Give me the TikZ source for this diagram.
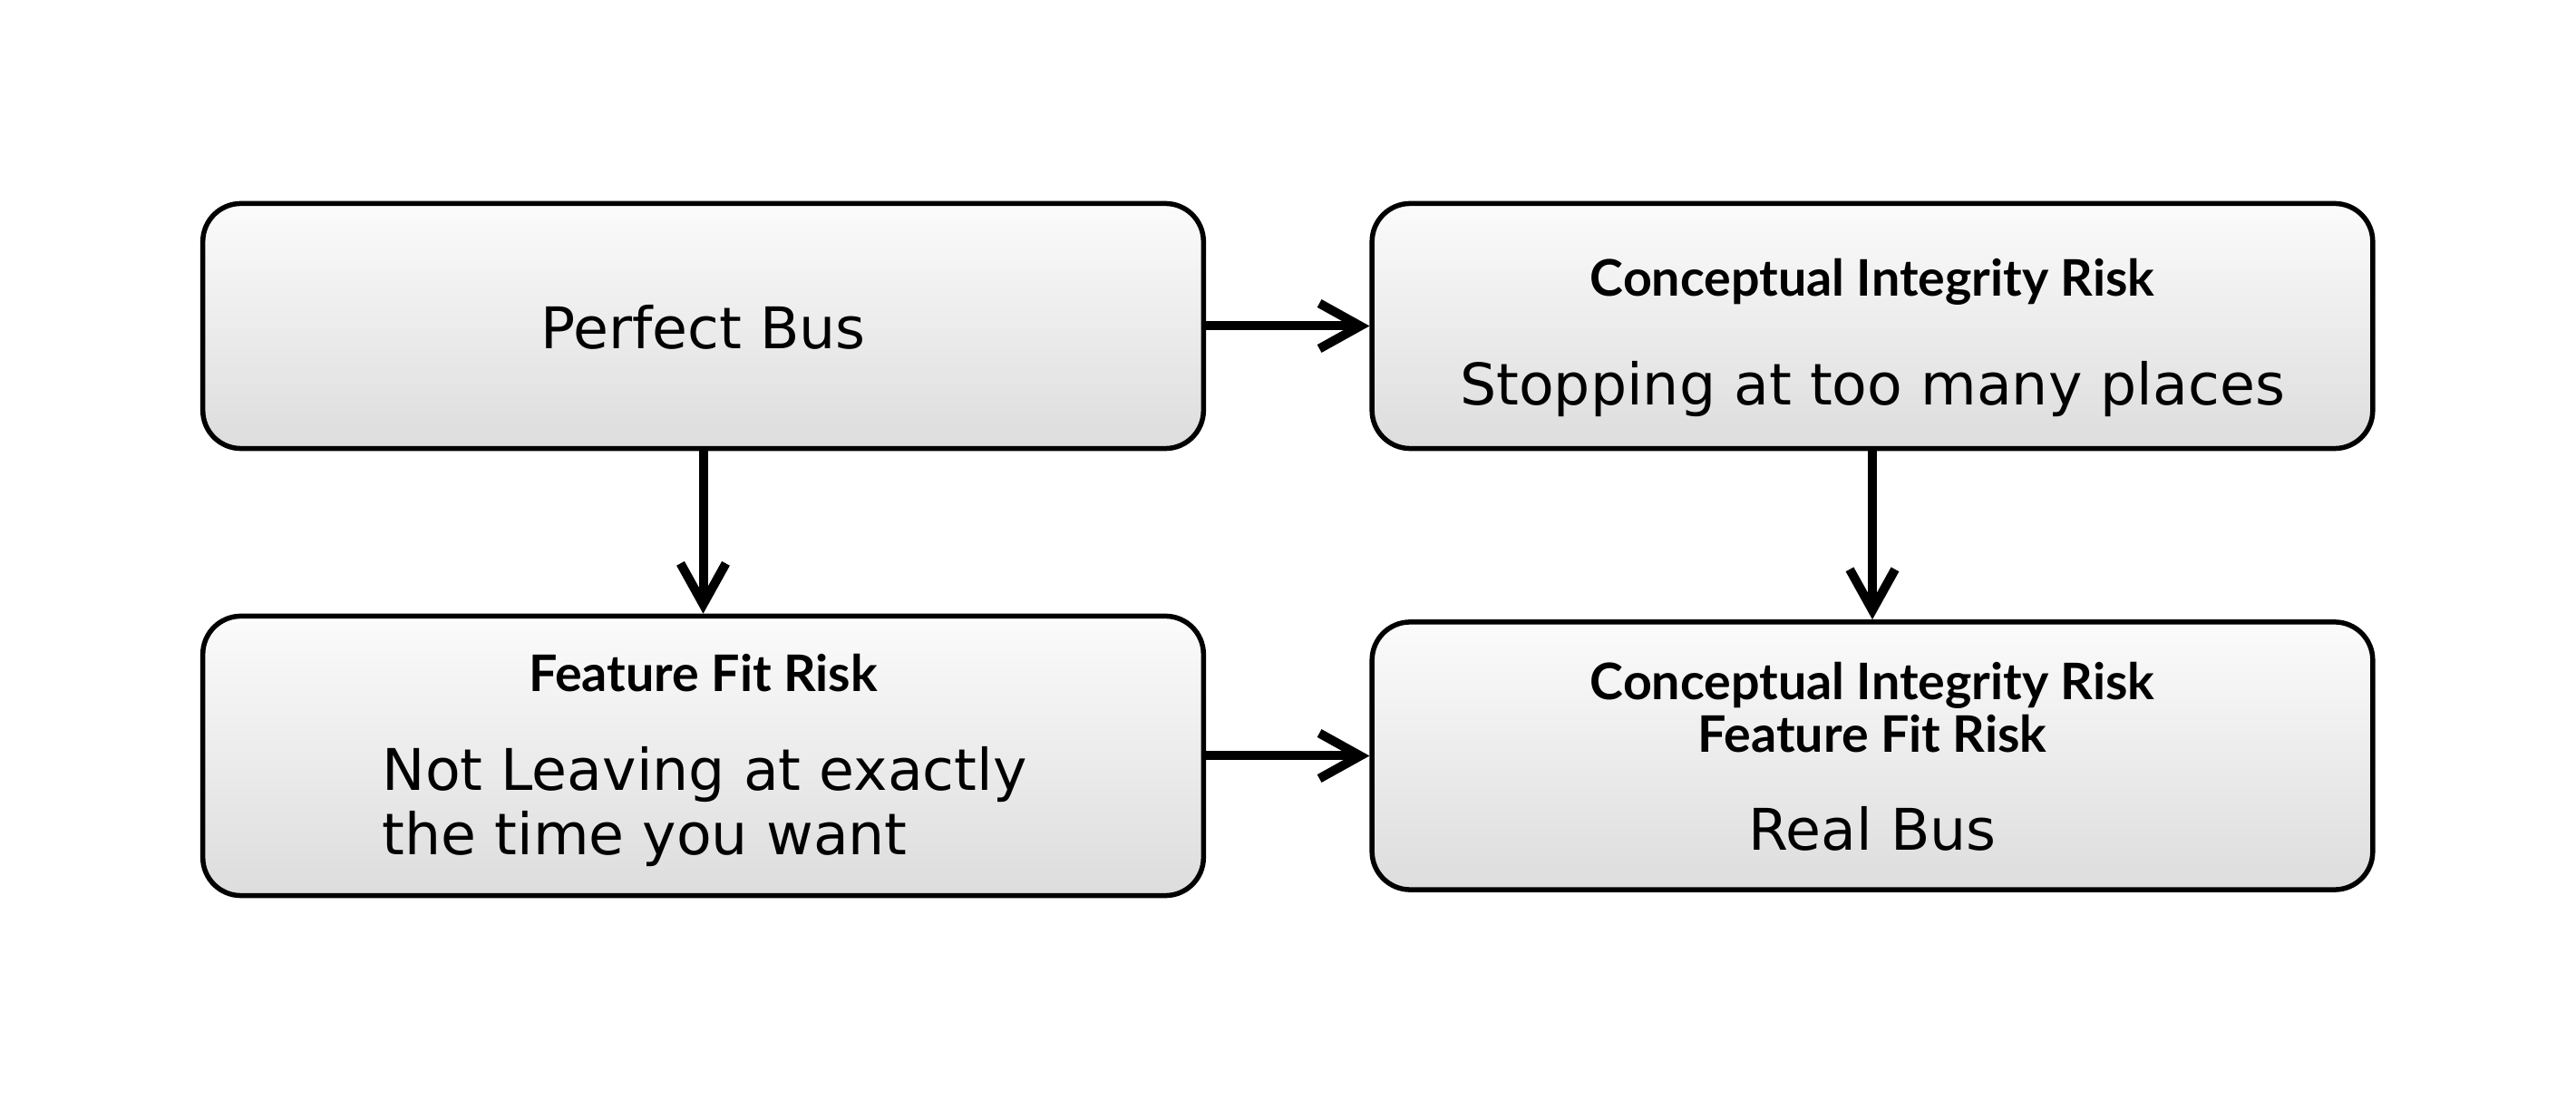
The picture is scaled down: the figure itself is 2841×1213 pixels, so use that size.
\documentclass[tikz,border=0pt]{standalone}
\usepackage{fontspec}
\setmainfont{DejaVu Sans}
\newfontfamily\titlefont{Lato}
\usetikzlibrary{arrows.meta}
\tikzset{
  box/.style={draw=black, line width=0.055cm, rounded corners=0.42cm,
    top color=gray!3, bottom color=gray!27, minimum width=11.03cm, inner sep=0pt},
  arr/.style={draw=black, line width=0.1cm, -{Straight Barb[length=0.45cm,width=0.5cm]}},
  body/.style={anchor=base, inner sep=0pt, font=\fontsize{18}{21}\selectfont},
  title/.style={anchor=base, inner sep=0pt, font=\titlefont\bfseries\fontsize{15.8}{18}\selectfont}
}
\begin{document}
\begin{tikzpicture}[x=0.01cm, y=-0.01cm]
\useasboundingbox[fill=white] (0,0) rectangle (2841,1213);
% boxes
\node[box, minimum height=2.70cm] (b1) at (775.5,359.5) {};
\node[box, minimum height=2.70cm] (b2) at (2065,359.5) {};
\node[box, minimum height=3.08cm] (b3) at (775.5,833.5) {};
\node[box, minimum height=2.95cm] (b4) at (2065,833.5) {};
% texts
\node[body] (t1) at (775.5,385) {Perfect Bus};
\node[title] (t2a) at (2065,327) {Conceptual Integrity Risk};
\node[body] (t2b) at (2065,447) {Stopping at too many places};
\node[title] (t3a) at (775.5,763) {Feature Fit Risk};
\node[body, anchor=base west] (t3b) at (421,872) {Not Leaving at exactly};
\node[body, anchor=base west] (t3c) at (421,943) {the time you want};
\node[title] (t4a) at (2065,772) {Conceptual Integrity Risk};
\node[title] (t4b) at (2065,830) {Feature Fit Risk};
\node[body] (t4c) at (2065,938) {Real Bus};
% connectors
\draw[arr] (b1.east) -- (b1.east -| b2.west);
\draw[arr] (b1.south) -- (b1.south |- b3.north);
\draw[arr] (b2.south) -- (b2.south |- b4.north);
\draw[arr] (b3.east) -- (b3.east -| b4.west);
\end{tikzpicture}
\end{document}
